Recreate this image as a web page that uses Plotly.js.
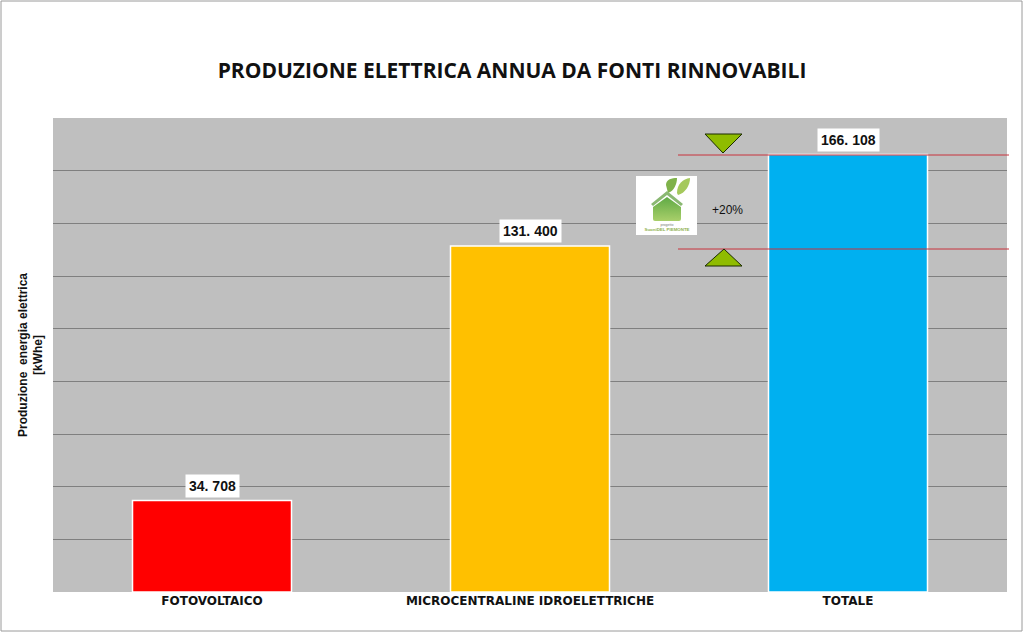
<!DOCTYPE html>
<html><head><meta charset="utf-8">
<script src="https://cdn.plot.ly/plotly-3.0.1.min.js"></script>
<style>html,body{margin:0;padding:0;background:#fff}#c{width:1024px;height:634px}</style>
</head><body><div id="c"></div>
<script>
const categories = ["FOTOVOLTAICO", "MICROCENTRALINE IDROELETTRICHE", "TOTALE"];
const values = [34708, 131400, 166108];
const valueLabels = ["34.708", "131.400", "166.108"];
const barColors = ["#ff0000", "#ffc000", "#00b0f0"];
const refValues = [166108, 131400];

const W = 1024, H = 634, L = 53, R = 1007, T = 118, B = 592;
const px = x => (x - L) / (R - L);
const py = y => (B - y) / (B - T);

const logo = `<svg xmlns="http://www.w3.org/2000/svg" width="61" height="59" viewBox="0 0 61 59">
<defs><linearGradient id="g" x1="0" y1="0" x2="0" y2="1"><stop offset="0" stop-color="#5faa45"/><stop offset="1" stop-color="#a9cf6a"/></linearGradient></defs>
<rect width="61" height="59" fill="#ffffff"/>
<path d="M30 9 C30 3 36 2 41 2 C41 8 38 15 32 17 Z" fill="#7fb24a"/>
<path d="M41 17 C41 8 47 3 54 2 C54 10 49 17 42 19 Z" fill="#a5c95c"/>
<path d="M15 28 L31 15 L47 28 L45 30 L31 19 L17 30 Z" fill="#8ab872"/>
<path d="M17 31 L31 21 L45 31 L45 43 Q45 45 43 45 L19 45 Q17 45 17 43 Z" fill="url(#g)"/>
<text x="31" y="50" font-size="3.6" text-anchor="middle" fill="#777" font-family="Liberation Sans">progetto</text>
<text x="31" y="55" font-size="4.4" text-anchor="middle" fill="#8fb04e" font-family="Liberation Sans" font-weight="bold">SuoniDEL PIEMONTE</text>
</svg>`;

const labelFont = {family: "DejaVu Sans", size: 12.5, color: "#111"};

const annotations = categories.map((c, i) => ({
  x: c, y: values[i], xref: "x", yref: "y", yanchor: "bottom", xanchor: "center",
  yshift: 3, text: "<b>" + valueLabels[i].replace(".", ". ") + "</b>", showarrow: false,
  bgcolor: "#ffffff", borderpad: 3, font: {family: "Liberation Sans", size: 14, color: "#111"}
}));
annotations.push({
  xref: "paper", yref: "paper", x: px(727), y: py(210), text: "+20%", showarrow: false,
  xanchor: "center", yanchor: "middle", font: {family: "Liberation Sans", size: 12, color: "#111"}
});

const refLine = y => ({type: "line", layer: "above", xref: "paper", yref: "paper",
  x0: px(678), x1: px(1009), y0: py(y), y1: py(y), line: {color: "#c8323c", width: 1}});
const tri = d => ({type: "path", layer: "above", xref: "paper", yref: "paper", path: d,
  fillcolor: "#8fbc00", line: {color: "#1a2a00", width: 1}});
const pth = pts => "M" + pts.map(p => px(p[0]) + "," + py(p[1])).join(" L") + " Z";

const shapes = [
  {type: "rect", layer: "below", xref: "paper", yref: "paper",
   x0: px(1), x1: px(1022), y0: py(631), y1: py(1), line: {color: "#9a9a9a", width: 1}, fillcolor: "rgba(0,0,0,0)"},
  refLine(155), refLine(249),
  tri(pth([[705, 134], [742, 134], [723, 153]])),
  tri(pth([[705, 266], [742, 266], [724, 249]]))
];

Plotly.newPlot("c", [{
  type: "bar", x: categories, y: values, width: 0.5,
  marker: {color: barColors, line: {color: "#ffffff", width: 1.5}},
  hoverinfo: "x+y"
}], {
  width: W, height: H, autosize: false,
  margin: {l: L, r: W - R, t: T, b: H - B, pad: 0},
  paper_bgcolor: "#ffffff", plot_bgcolor: "#bfbfbf",
  showlegend: false,
  title: {text: "<b>PRODUZIONE ELETTRICA ANNUA DA FONTI RINNOVABILI</b>", x: 512 / W, xanchor: "center",
          y: 1 - 71 / H, yanchor: "middle", font: {family: "Open Sans", size: 21, color: "#111"}},
  xaxis: {type: "category", categoryorder: "array", categoryarray: categories, range: [-0.5, 2.5],
          showgrid: false, zeroline: false, showline: false, ticks: "", ticklen: 0, tickangle: 0,
          tickfont: {family: "DejaVu Sans", size: 12, color: "#111", weight: "bold"}},
  yaxis: {range: [0, 180000], dtick: 20000, showticklabels: false, ticks: "", zeroline: false,
          showgrid: true, gridcolor: "#7f7f7f", gridwidth: 1, showline: false,
          title: {text: "<b>Produzione  energia elettrica<br>[kWhe]</b>", standoff: 6,
                  font: {family: "Liberation Sans", size: 12, color: "#111"}}},
  annotations, shapes,
  images: [{source: "data:image/svg+xml;charset=utf-8," + encodeURIComponent(logo), xref: "paper", yref: "paper",
            x: px(636), y: py(176), sizex: 61 / (R - L), sizey: 59 / (B - T), xanchor: "left", yanchor: "top",
            sizing: "stretch", layer: "above"}]
}, {displayModeBar: false, staticPlot: true});
</script></body></html>
